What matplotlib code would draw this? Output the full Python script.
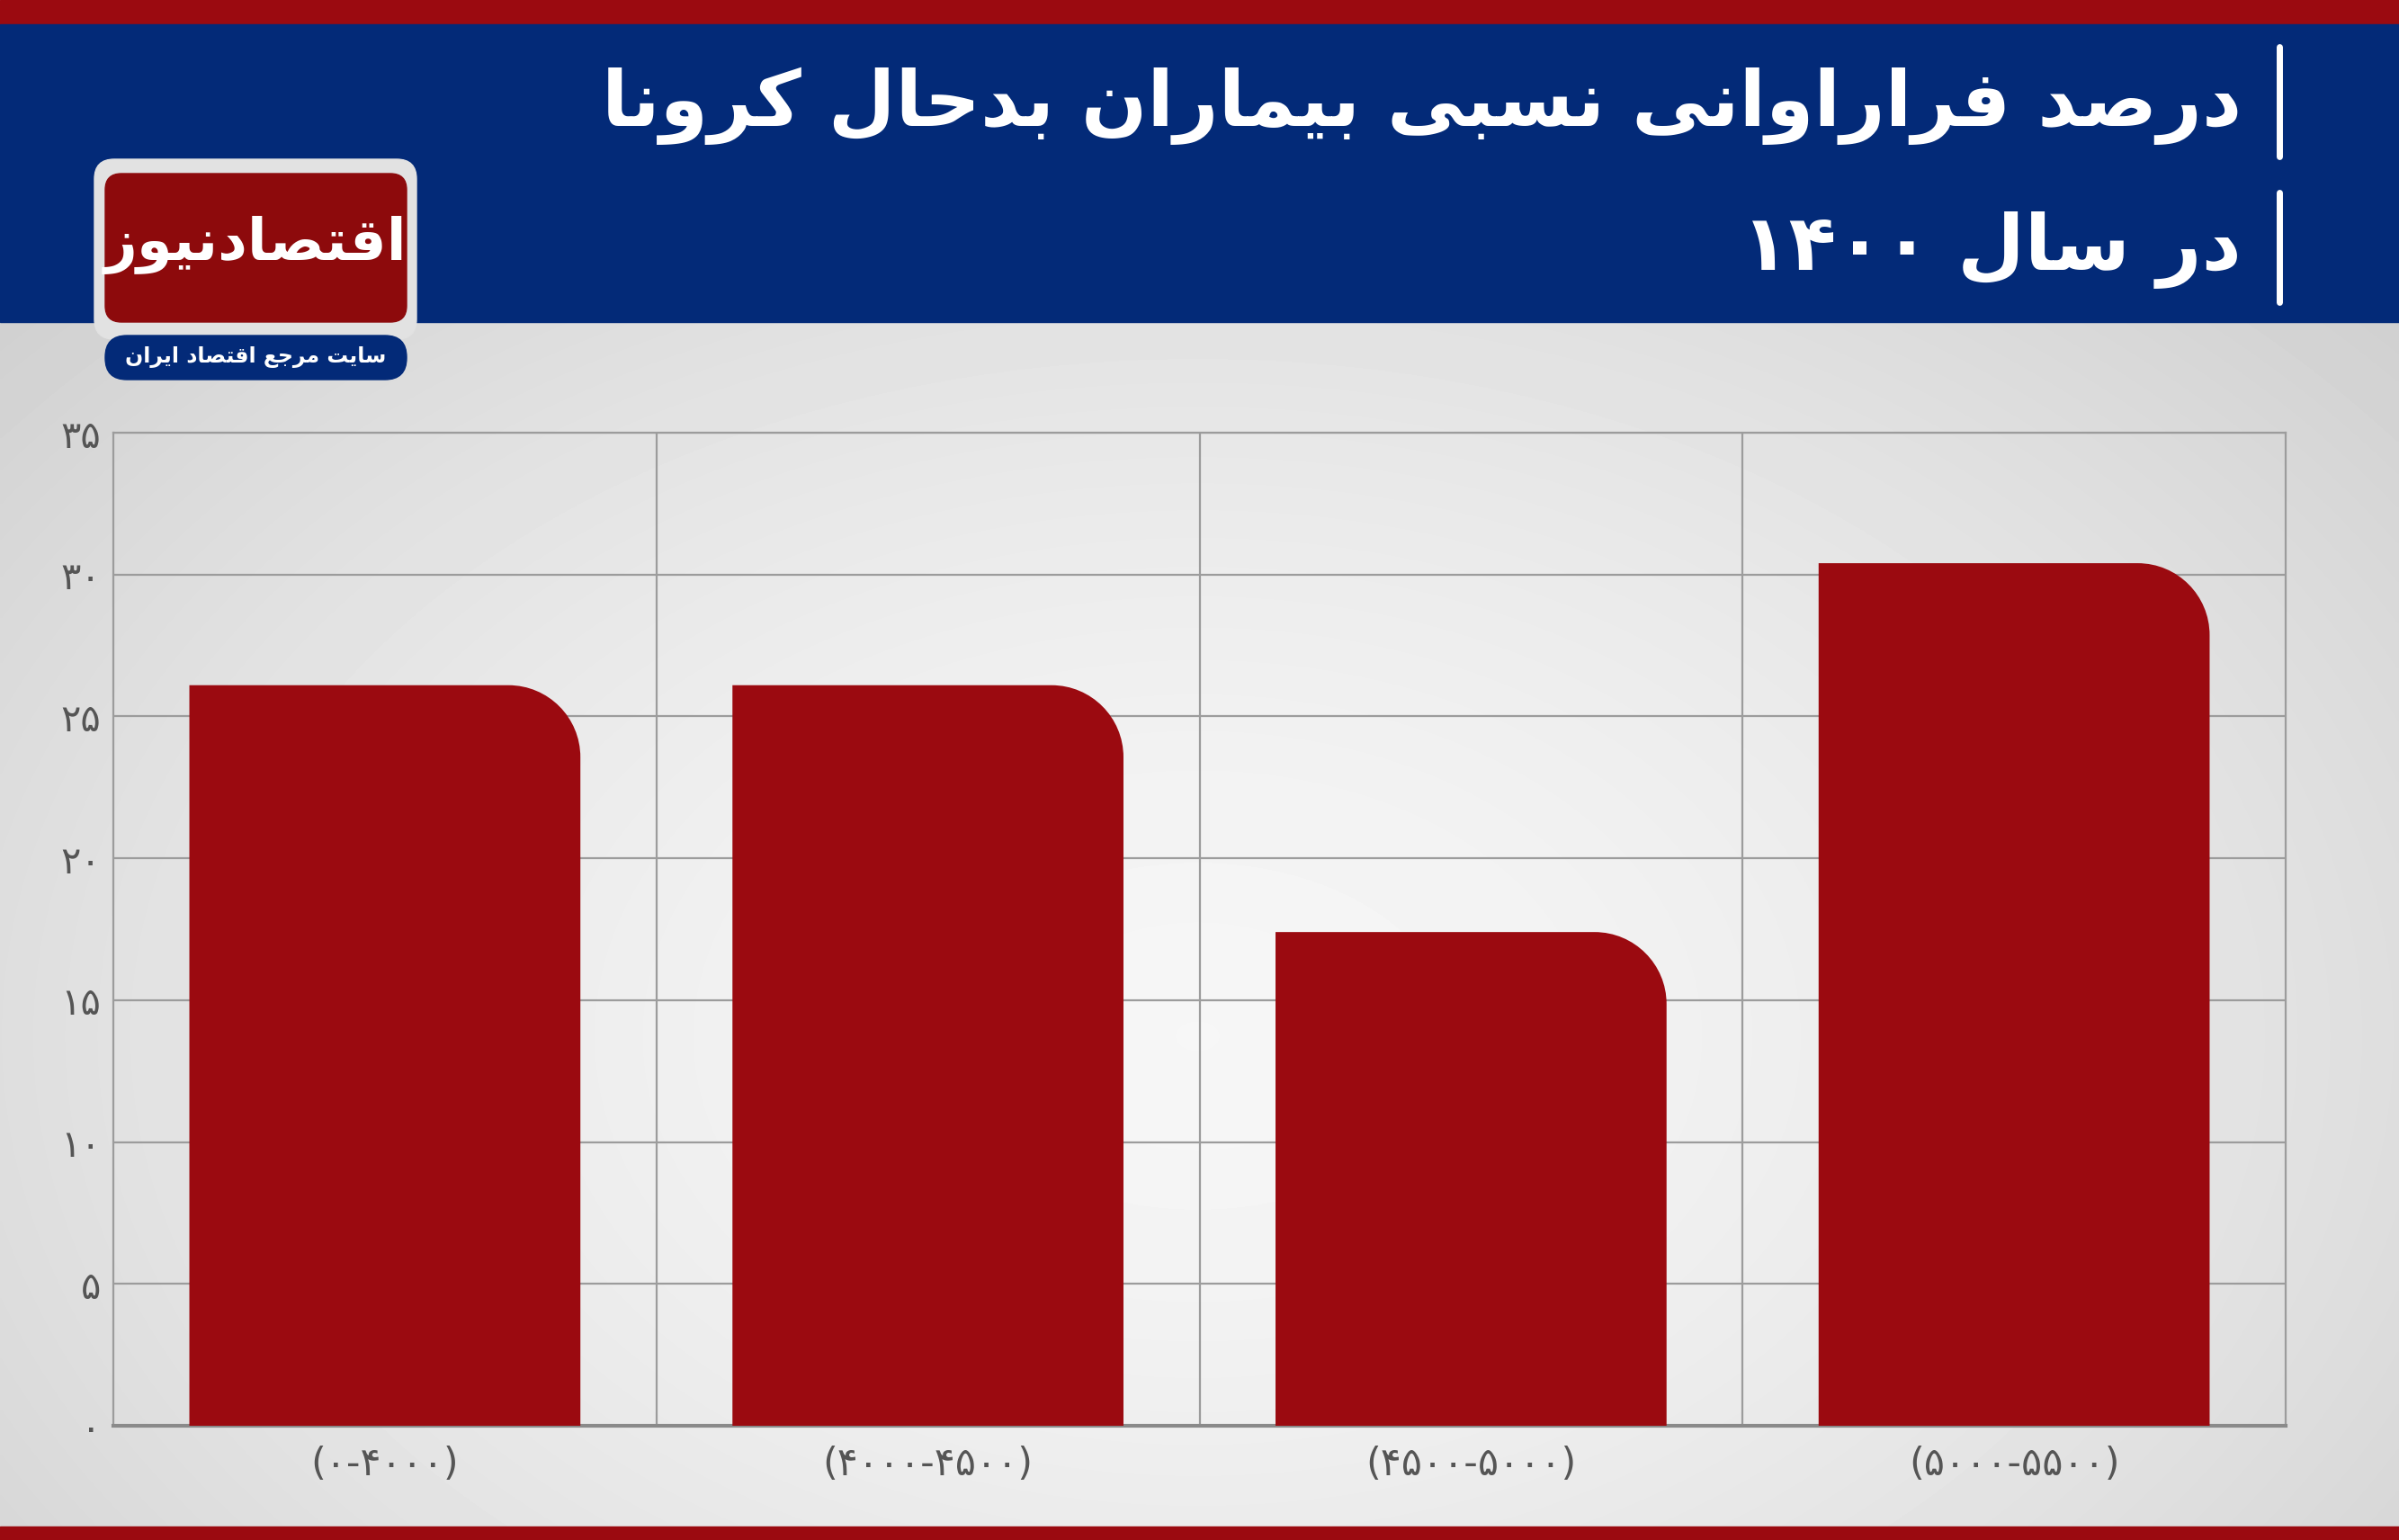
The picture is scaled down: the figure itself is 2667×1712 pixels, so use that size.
import numpy as np
import matplotlib
matplotlib.use('Agg')
import matplotlib.pyplot as plt
from matplotlib.path import Path
from matplotlib.patches import PathPatch, FancyBboxPatch, Rectangle

# ---------------- data ----------------
categories = ['(۰-۴۰۰۰)', '(۴۰۰۰-۴۵۰۰)', '(۴۵۰۰-۵۰۰۰)', '(۵۰۰۰-۵۵۰۰)']
values = [26.1, 26.1, 17.4, 30.4]
yticks = [0, 5, 10, 15, 20, 25, 30, 35]
ytick_labels = ['۰', '۵', '۱۰', '۱۵', '۲۰', '۲۵', '۳۰', '۳۵']
title_line1 = 'درصد فراراوانی نسبی بیماران بدحال کرونا'
title_line2 = 'در سال ۱۴۰۰'
logo_text = 'اقتصادنیوز'
logo_sub = 'سایت مرجع اقتصاد ایران'

# ---------------- minimal Arabic/Persian shaping ----------------
FORMS = {
    'ا': ('\uFE8D', '\uFE8E', None, None),
    'ب': ('\uFE8F', '\uFE90', '\uFE91', '\uFE92'),
    'ت': ('\uFE95', '\uFE96', '\uFE97', '\uFE98'),
    'ج': ('\uFE9D', '\uFE9E', '\uFE9F', '\uFEA0'),
    'ح': ('\uFEA1', '\uFEA2', '\uFEA3', '\uFEA4'),
    'د': ('\uFEA9', '\uFEAA', None, None),
    'ر': ('\uFEAD', '\uFEAE', None, None),
    'ز': ('\uFEAF', '\uFEB0', None, None),
    'س': ('\uFEB1', '\uFEB2', '\uFEB3', '\uFEB4'),
    'ص': ('\uFEB9', '\uFEBA', '\uFEBB', '\uFEBC'),
    'ع': ('\uFEC9', '\uFECA', '\uFECB', '\uFECC'),
    'ف': ('\uFED1', '\uFED2', '\uFED3', '\uFED4'),
    'ق': ('\uFED5', '\uFED6', '\uFED7', '\uFED8'),
    'ل': ('\uFEDD', '\uFEDE', '\uFEDF', '\uFEE0'),
    'م': ('\uFEE1', '\uFEE2', '\uFEE3', '\uFEE4'),
    'ن': ('\uFEE5', '\uFEE6', '\uFEE7', '\uFEE8'),
    'و': ('\uFEED', '\uFEEE', None, None),
    'ی': ('\uFBFC', '\uFBFD', '\uFBFE', '\uFBFF'),
    'ک': ('\uFB8E', '\uFB8F', '\uFB90', '\uFB91'),
}
DIGITS = set('۰۱۲۳۴۵۶۷۸۹0123456789')


def shape(text):
    out = []
    n = len(text)
    for i, c in enumerate(text):
        if c not in FORMS:
            out.append(c)
            continue
        prev = text[i - 1] if i > 0 else ''
        nxt = text[i + 1] if i < n - 1 else ''
        jp = prev in FORMS and FORMS[prev][2] is not None
        jn = nxt in FORMS and FORMS[c][2] is not None
        iso, fin, ini, med = FORMS[c]
        if jp and jn:
            out.append(med)
        elif jp:
            out.append(fin)
        elif jn:
            out.append(ini)
        else:
            out.append(iso)
    runs = []
    for ch in out:
        isd = ch in DIGITS
        if runs and runs[-1][0] == isd:
            runs[-1][1].append(ch)
        else:
            runs.append([isd, [ch]])
    vis = ''
    for isd, chars in reversed(runs):
        vis += ''.join(chars if isd else reversed(chars))
    return vis


plt.rcParams['font.family'] = ['DejaVu Sans']

W, H = 2667, 1712
fig = plt.figure(figsize=(W / 100, H / 100), dpi=100)

# ---------------- background / header ----------------
bg = fig.add_axes([0, 0, 1, 1])
bg.set_xlim(0, W)
bg.set_ylim(H, 0)
bg.axis('off')
yy, xx = np.mgrid[0:H:4, 0:W:4]
r = np.sqrt(((xx - 1330) / 1550.0) ** 2 + ((yy - 1150) / 1050.0) ** 2)
val = 0.965 - 0.12 * np.clip(r, 0, 1.2) ** 1.6
bg.imshow(val, cmap='gray', vmin=0, vmax=1, extent=[0, W, H, 0],
          aspect='auto', zorder=0, interpolation='bilinear')

bg.add_patch(Rectangle((0, 0), W, 28, color='#9b0a10', zorder=1))
bg.add_patch(Rectangle((0, 27), W, 331, color='#032a78', zorder=1))
bg.add_patch(Rectangle((0, 1697), W, 15, color='#9b0a10', zorder=1))

# logo
bg.add_patch(FancyBboxPatch((105, 177), 358, 200,
                            boxstyle='round,pad=0,rounding_size=22',
                            color='#e2e2e2', zorder=2))
bg.add_patch(FancyBboxPatch((117, 193), 335, 165,
                            boxstyle='round,pad=0,rounding_size=18',
                            color='#8d0a0c', zorder=3))
bg.add_patch(FancyBboxPatch((117, 373), 335, 49,
                            boxstyle='round,pad=0,rounding_size=24',
                            color='#032a78', zorder=3))
bg.text(284, 272, shape(logo_text), ha='center', va='center', color='white',
        fontsize=46, fontweight='bold', zorder=4)
bg.text(284, 397, shape(logo_sub), ha='center', va='center', color='white',
        fontsize=17, fontweight='bold', zorder=4)

# title
bg.text(2492, 118, shape(title_line1), ha='right', va='center', color='white',
        fontsize=62, fontweight='bold', zorder=4)
bg.text(2492, 278, shape(title_line2), ha='right', va='center', color='white',
        fontsize=62, fontweight='bold', zorder=4)
bg.plot([2534, 2534], [52, 174], color='white', lw=5, solid_capstyle='round', zorder=4)
bg.plot([2534, 2534], [214, 336], color='white', lw=5, solid_capstyle='round', zorder=4)

# ---------------- main chart ----------------
ax_l, ax_r, ax_t, ax_b = 126, 2541, 481, 1585
ax = fig.add_axes([ax_l / W, 1 - ax_b / H, (ax_r - ax_l) / W, (ax_b - ax_t) / H])
ax.patch.set_alpha(0)
xpos = np.arange(len(categories))
ax.set_xlim(-0.5, len(categories) - 0.5)
ax.set_ylim(0, 35)

grid_c = '#9c9c9c'
ax.set_yticks(yticks)
ax.set_yticklabels(ytick_labels, fontsize=30, color='#555555')
ax.set_xticks(xpos)
ax.set_xticklabels(categories, fontsize=31, color='#555555')
ax.set_xticks(xpos[:-1] + 0.5, minor=True)
ax.tick_params(axis='both', which='both', length=0)
ax.tick_params(axis='y', pad=10)
ax.tick_params(axis='x', pad=16)
ax.yaxis.grid(True, color=grid_c, lw=1.6, zorder=1)
ax.xaxis.grid(True, which='minor', color=grid_c, lw=1.6, zorder=1)
ax.set_axisbelow(True)
for s in ['left', 'right', 'top']:
    ax.spines[s].set_color(grid_c)
    ax.spines[s].set_linewidth(1.6)
ax.spines['bottom'].set_color('#8a8a8a')
ax.spines['bottom'].set_linewidth(3)

bar_w = 0.72
px_x = (ax_r - ax_l) / len(categories)
px_y = (ax_b - ax_t) / 35.0
rad_px = 80
rx = rad_px / px_x
ry = rad_px / px_y
k = 0.5523
for xc, v in zip(xpos, values):
    x0, x1 = xc - bar_w / 2, xc + bar_w / 2
    verts = [(x0, 0), (x0, v), (x1 - rx, v),
             (x1 - rx + k * rx, v), (x1, v - ry + k * ry), (x1, v - ry),
             (x1, 0), (x0, 0)]
    codes = [Path.MOVETO, Path.LINETO, Path.LINETO,
             Path.CURVE4, Path.CURVE4, Path.CURVE4,
             Path.LINETO, Path.CLOSEPOLY]
    ax.add_patch(PathPatch(Path(verts, codes), facecolor='#9b0a10',
                           edgecolor='none', zorder=3))

fig.savefig('out.png', dpi=100)
